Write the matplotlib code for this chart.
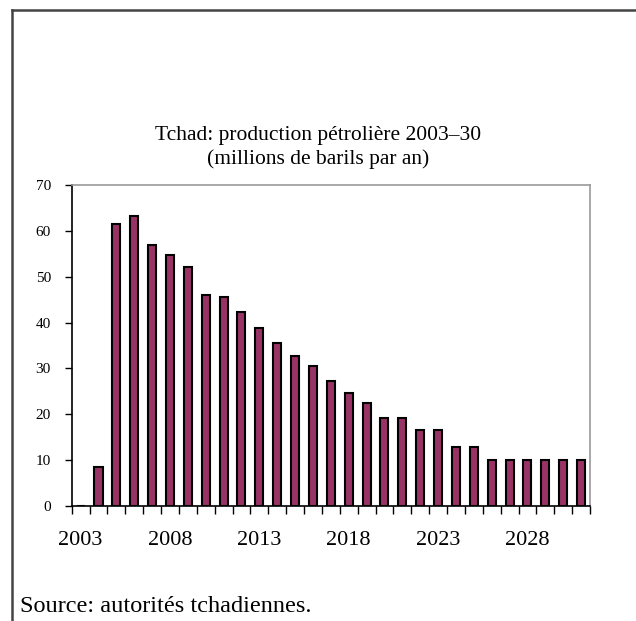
import matplotlib
matplotlib.use("Agg")
import matplotlib.pyplot as plt
from matplotlib.lines import Line2D

years = list(range(2003, 2032))
production = [0, 8.6, 61.4, 63.2, 57.0, 54.8, 52.0, 45.9, 45.6, 42.3, 38.9, 35.6,
              32.8, 30.5, 27.3, 24.6, 22.4, 19.2, 19.2, 16.6, 16.6, 12.9, 12.9,
              10.0, 10.0, 10.0, 10.0, 10.0, 10.0]
year_labels = ['2003', '2008', '2013', '2018', '2023', '2028']

plt.rcParams['font.family'] = ['Liberation Serif', 'DejaVu Serif']

fig = plt.figure(figsize=(6.36, 6.21), dpi=100)
ax = fig.add_axes([0.1127, 0.1852, 0.815, 0.517])

x = list(range(len(years)))
ax.bar(x, production, width=0.45, color='#993366', edgecolor='black', linewidth=1.5)

ax.set_xlim(-0.5, len(years) - 0.5)
ax.set_ylim(0, 70)
ax.set_yticks(range(0, 71, 10))
ax.tick_params(axis='y', labelsize=11, direction='out', length=5, width=1, pad=10)

# ticks on the category boundaries, a label every 5 years
ax.set_xticks([i - 0.5 for i in range(len(years) + 1)])
ax.set_xticklabels([])
ax.tick_params(axis='x', direction='out', length=6, width=1)
for lab in year_labels:
    ax.text(years.index(int(lab)), -0.109, lab, ha='center', va='center', fontsize=16,
            transform=ax.get_xaxis_transform())

ax.spines['left'].set_color('black')
ax.spines['bottom'].set_color('black')
ax.spines['top'].set_color('#999999')
ax.spines['right'].set_color('#999999')
for s in ax.spines.values():
    s.set_linewidth(1.2)

fig.text(0.5, 0.7625, 'Tchad: production pétrolière 2003–30\n(millions de barils par an)',
         ha='center', va='center', fontsize=15.5, linespacing=1.25)
fig.text(0.031, 0.014, 'Source: autorités tchadiennes.', ha='left', va='baseline', fontsize=17.5)

# outer frame, top and left only
fig.add_artist(Line2D([12 / 636, 1], [1 - 10 / 621] * 2, color='#444444', lw=1.8,
                      transform=fig.transFigure))
fig.add_artist(Line2D([12 / 636] * 2, [0, 1 - 10 / 621], color='#444444', lw=1.8,
                      transform=fig.transFigure))

fig.savefig('out.png', dpi=100)
